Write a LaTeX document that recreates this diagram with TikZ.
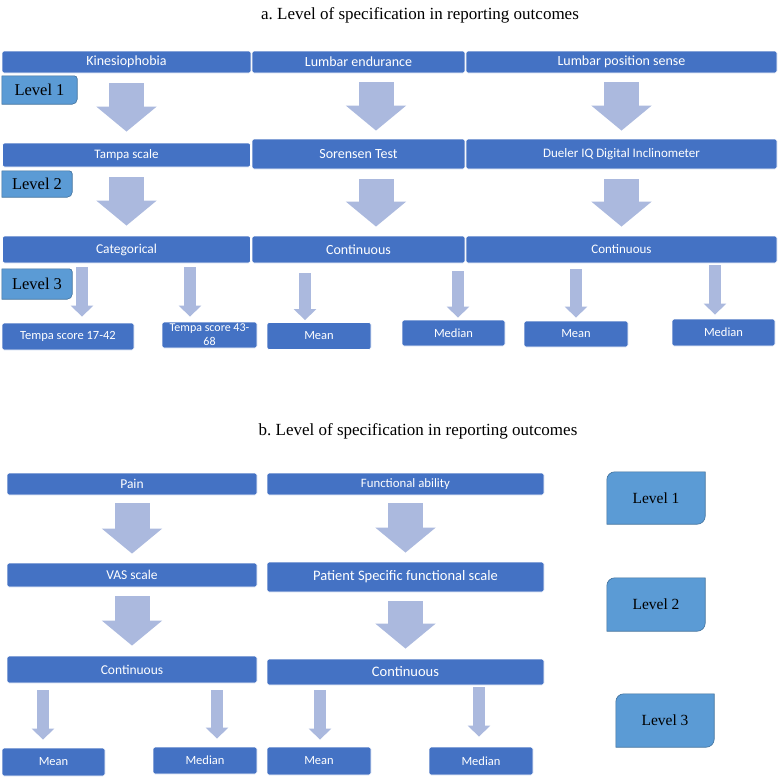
\documentclass[tikz,border=0pt]{standalone}
\usepackage{fontspec}
\setmainfont{Liberation Serif}
\newfontfamily\boxfont{Carlito}
\usetikzlibrary{shapes, arrows.meta, backgrounds}

\definecolor{boxblue}{HTML}{4472C4}
\definecolor{levelblue}{HTML}{5B9BD5}
\definecolor{leveledge}{HTML}{41719C}
\definecolor{arrowblue}{HTML}{ABB9DE}

\begin{document}
\begin{tikzpicture}[x=1pt, y=1pt, node distance=93pt]
    \tikzstyle{block} = [rectangle, draw=white, line width=0.8pt, fill=boxblue, text=white, rounded corners=2pt, inner sep=0pt, text centered, font=\boxfont\fontsize{14}{16}\selectfont]
    \tikzstyle{leaf} = [block, minimum width=104pt, minimum height=27pt, font=\boxfont\fontsize{12.5}{14}\selectfont]
    \tikzstyle{lvl} = [inner sep=0pt, text=black, font=\fontsize{16.5}{18}\selectfont]
    \tikzstyle{lvlshape} = [fill=levelblue, draw=leveledge, line width=0.6pt]
    \tikzstyle{bigline} = [draw=arrowblue, line width=35pt, -{Triangle[width=59pt, length=25pt]}]
    \tikzstyle{smallline} = [draw=arrowblue, line width=12pt, -{Triangle[width=22pt, length=11pt]}]
    \tikzstyle{title} = [font=\fontsize{17}{20}\selectfont]

    \useasboundingbox (0,0) rectangle (780,-780);

    % Titles
    \node [title] (titleA) at (420,-15) {a.\ Level of specification in reporting outcomes};
    \node [title] (titleB) at (418,-431) {b.\ Level of specification in reporting outcomes};

    % Part a
    \node [block, minimum width=249pt, minimum height=22pt] (kin) at (126.5,-62) {Kinesiophobia};
    \node [block, minimum width=213pt, minimum height=22pt] (lend) at (358.5,-62) {Lumbar endurance};
    \node [block, minimum width=311pt, minimum height=22pt] (lpos) at (621.5,-62) {Lumbar position sense};
    \node [block, below of=kin, minimum width=248pt, minimum height=24pt, font=\boxfont\fontsize{13}{15}\selectfont] (tampa) {Tampa scale};
    \node [block, below of=lend, node distance=92pt, minimum width=213pt, minimum height=30pt] (sor) {Sorensen Test};
    \node [block, below of=lpos, node distance=92pt, minimum width=311pt, minimum height=30pt, font=\boxfont\fontsize{13}{15}\selectfont] (dueler) {Dueler IQ Digital Inclinometer};
    \node [block, below of=tampa, node distance=94.5pt, minimum width=248pt, minimum height=27pt, font=\boxfont\fontsize{13.5}{15}\selectfont] (cat) {Categorical};
    \node [block, below of=sor, node distance=95.5pt, minimum width=213pt, minimum height=27pt] (contA1) {Continuous};
    \node [block, below of=dueler, node distance=95.5pt, minimum width=311pt, minimum height=27pt, font=\boxfont\fontsize{13}{15}\selectfont] (contA2) {Continuous};

    \node [leaf, minimum width=132pt] (tA) at (68,-336.5) {Tempa score 17-42};
    \node [leaf, minimum width=95pt, minimum height=26pt, align=center, font=\boxfont\fontsize{12}{14}\selectfont] (tB) at (209.5,-335) {Tempa score 43-\\68};
    \node [leaf] (mA1) at (319,-336) {Mean};
    \node [leaf, minimum width=103pt, minimum height=26pt] (mdA1) at (453.5,-333) {Median};
    \node [leaf, minimum height=26pt] (mA2) at (576,-334) {Mean};
    \node [leaf, minimum width=103pt] (mdA2) at (723.5,-332.5) {Median};

    \node [lvl, minimum width=75pt, minimum height=28pt] (lvA1) at (39.5,-90) {Level 1};
    \node [lvl, minimum width=70pt, minimum height=26pt] (lvA2) at (37,-184) {Level 2};
    \node [lvl, minimum width=70pt, minimum height=30pt] (lvA3) at (37,-284) {Level 3};

    % Part b
    \node [block, minimum width=250pt, minimum height=22pt, font=\boxfont\fontsize{13.5}{15}\selectfont] (pain) at (132,-484) {Pain};
    \node [block, minimum width=277pt, minimum height=22pt, font=\boxfont\fontsize{12.8}{14}\selectfont] (func) at (405.5,-484) {Functional ability};
    \node [block, below of=pain, node distance=91pt, minimum width=250pt, minimum height=24pt, font=\boxfont\fontsize{13.5}{15}\selectfont] (vas) {VAS scale};
    \node [block, below of=func, minimum width=277pt, minimum height=30pt, font=\boxfont\fontsize{14.5}{16}\selectfont] (psfs) {Patient Specific functional scale};
    \node [block, below of=vas, node distance=94.5pt, minimum width=250pt, minimum height=27pt, font=\boxfont\fontsize{13.5}{15}\selectfont] (contB1) {Continuous};
    \node [block, below of=psfs, node distance=95pt, minimum width=277pt, minimum height=26pt, font=\boxfont\fontsize{14.5}{16}\selectfont] (contB2) {Continuous};

    \node [leaf, minimum width=103pt, minimum height=28pt] (mB1) at (53.5,-762) {Mean};
    \node [leaf] (mdB1) at (205,-760.5) {Median};
    \node [leaf, minimum height=28pt] (mB2) at (319,-761) {Mean};
    \node [leaf, minimum height=28pt] (mdB2) at (481,-761) {Median};

    \node [lvl, minimum width=98pt, minimum height=52pt, font=\fontsize{15.5}{17}\selectfont] (lvB1) at (656,-498) {Level 1};
    \node [lvl, minimum width=98pt, minimum height=53pt, font=\fontsize{15.5}{17}\selectfont] (lvB2) at (656,-604.5) {Level 2};
    \node [lvl, minimum width=98pt, minimum height=53pt, font=\fontsize{15.5}{17}\selectfont] (lvB3) at (665,-720.5) {Level 3};

    % Level tags
    \begin{scope}[on background layer]
        \foreach \n in {lvA1, lvA2, lvA3}
            \path [lvlshape] (\n.north west) -- ([xshift=-3pt]\n.north east) arc[start angle=90, end angle=0, radius=3pt] -- ([yshift=5pt]\n.south east) arc[start angle=0, end angle=-90, radius=5pt] -- (\n.south west) -- cycle;
        \foreach \n in {lvB1, lvB2, lvB3}
            \path [lvlshape] ([yshift=-8pt]\n.north west) arc[start angle=180, end angle=90, radius=8pt] -- (\n.north east) -- ([yshift=8pt]\n.south east) arc[start angle=0, end angle=-90, radius=8pt] -- (\n.south west) -- cycle;
    \end{scope}

    % Big arrows
    \path [bigline, shorten <=10pt, shorten >=11pt] (kin) -- (tampa);
    \path [bigline, shorten <=9pt, shorten >=8pt] ([xshift=17.5pt]lend.south) -- ([xshift=17.5pt]sor.north);
    \path [bigline, shorten <=9pt, shorten >=8pt] (lpos) -- (dueler);
    \path [bigline, shorten <=10pt, shorten >=10pt] (tampa) -- (cat);
    \path [bigline, shorten <=10pt, shorten >=9pt] ([xshift=17.5pt]sor.south) -- ([xshift=17.5pt]contA1.north);
    \path [bigline, shorten <=10pt, shorten >=9pt] (dueler) -- (contA2);
    \path [bigline, shorten <=8pt, shorten >=9pt] (pain) -- (vas);
    \path [bigline, shorten <=9pt, shorten >=10pt] (vas) -- (contB1);
    \path [bigline, shorten <=8pt, shorten >=9pt] (func) -- (psfs);
    \path [bigline, shorten <=9pt, shorten >=10pt] (psfs) -- (contB2);

    % Small arrows
    \path [smallline, shorten <=4pt, shorten >=6pt] (cat.south -| 82,0) -- (tA.north -| 82,0);
    \path [smallline, shorten <=4pt, shorten >=5pt] (cat.south -| 190,0) -- (tB.north -| 190,0);
    \path [smallline, shorten <=10pt, shorten >=2pt] (contA1.south -| 305,0) -- (mA1.north -| 305,0);
    \path [smallline, shorten <=8pt, shorten >=2pt] (contA1.south -| 458,0) -- (mdA1.north -| 458,0);
    \path [smallline, shorten <=6pt, shorten >=3pt] (contA2.south -| 576,0) -- (mA2.north -| 576,0);
    \path [smallline, shorten <=2pt, shorten >=4pt] (contA2.south -| 715,0) -- (mdA2.north -| 715,0);
    \path [smallline, shorten <=7pt, shorten >=8pt] (contB1.south -| 43,0) -- (mB1.north -| 43,0);
    \path [smallline, shorten <=7pt, shorten >=8pt] (contB1.south -| 217,0) -- (mdB1.north -| 217,0);
    \path [smallline, shorten <=5pt, shorten >=7pt] (contB2.south -| 320,0) -- (mB2.north -| 320,0);
    \path [smallline, shorten <=2pt, shorten >=10pt] (contB2.south -| 479,0) -- (mdB2.north -| 479,0);

\end{tikzpicture}
\end{document}
